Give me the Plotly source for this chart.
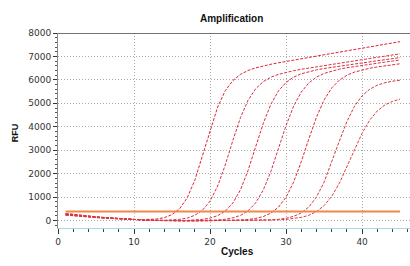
import plotly.graph_objects as go

cycles = list(range(1, 46))

curve_1 = [260, 225, 195, 168, 142, 118, 95, 75, 56, 43, 37, 41, 64, 122, 252, 503, 968, 1722, 2754, 3873,
           4845, 5536, 5970, 6235, 6400, 6513, 6596, 6666, 6728, 6791, 6847, 6903, 6959, 7015, 7071, 7127,
           7183, 7239, 7295, 7351, 7407, 7463, 7519, 7575, 7631]
curve_2 = [235, 205, 178, 152, 130, 108, 86, 67, 50, 34, 20, 10, 3, 7, 20, 48, 106, 222, 440, 830,
           1472, 2368, 3415, 4388, 5130, 5622, 5926, 6115, 6236, 6323, 6392, 6452, 6507, 6559, 6612, 6662,
           6712, 6762, 6812, 6862, 6912, 6962, 7012, 7062, 7112]
curve_3 = [275, 238, 205, 176, 150, 125, 100, 78, 58, 40, 25, 12, 2, -6, -10, -12, 2, 17, 47, 103,
           207, 400, 747, 1308, 2136, 3145, 4145, 4959, 5530, 5893, 6117, 6259, 6355, 6427, 6486, 6538,
           6587, 6634, 6681, 6726, 6771, 6816, 6861, 6906, 6951]
curve_4 = [300, 258, 222, 190, 160, 133, 107, 84, 62, 44, 28, 15, 5, -3, -8, -10, -12, -10, -8, 9,
           25, 55, 112, 219, 413, 751, 1301, 2093, 3067, 4055, 4883, 5481, 5873, 6119, 6275, 6380,
           6457, 6518, 6571, 6621, 6667, 6714, 6758, 6802, 6846]
curve_5 = [230, 198, 172, 148, 126, 104, 84, 65, 48, 32, 18, 8, -2, -10, -14, -16, -16, -14, -12, -10,
           -8, -6, 9, 21, 45, 88, 169, 315, 571, 997, 1645, 2509, 3489, 4409, 5142, 5654,
           5987, 6198, 6334, 6427, 6496, 6552, 6600, 6645, 6687]
curve_6 = [290, 250, 214, 182, 154, 128, 103, 80, 60, 42, 26, 13, 3, -5, -10, -13, -14, -13, -11, -9,
           -7, -5, -4, -3, -2, -2, 13, 26, 50, 95, 177, 325, 580, 1003, 1636, 2465,
           3382, 4223, 4876, 5321, 5601, 5773, 5877, 5943, 5988]
curve_7 = [245, 212, 183, 157, 133, 110, 89, 69, 51, 35, 21, 10, 1, -6, -10, -12, -12, -10, -8, -6,
           -4, -2, 0, 2, 3, 4, 5, 18, 28, 46, 77, 132, 225, 381, 636, 1028,
           1584, 2279, 3031, 3726, 4282, 4674, 4929, 5085, 5178]

series = [curve_1, curve_2, curve_3, curve_4, curve_5, curve_6, curve_7]
colors = ["#e2222e", "#d9303e", "#e0283a", "#d63244", "#e2262f", "#d8343e", "#e03a3a"]

threshold_x = [1, 45]
threshold_y = [380, 380]

x_ticks = [0, 10, 20, 30, 40]
y_ticks = [0, 1000, 2000, 3000, 4000, 5000, 6000, 7000, 8000]

fig = go.Figure()
for vals, col in zip(series, colors):
    fig.add_trace(go.Scatter(x=cycles, y=vals, mode="lines",
                             line=dict(color=col, width=1, dash="3px,1.5px"),
                             hoverinfo="skip"))
fig.add_trace(go.Scatter(x=threshold_x, y=threshold_y, mode="lines",
                         line=dict(color="#f0884a", width=2), hoverinfo="skip"))

tickfont = dict(family="DejaVu Sans", size=9, color="#333")
labfont = dict(family="Liberation Sans", size=10, color="#111")
fig.update_layout(
    width=410, height=266,
    margin=dict(l=58, r=0, t=33, b=38, autoexpand=False),
    paper_bgcolor="white", plot_bgcolor="white",
    showlegend=False,
    title=dict(text="<b>Amplification</b>", x=0.565, xanchor="center", y=0.93, yanchor="middle",
               font=dict(family="Liberation Sans", size=10, color="#111")),
    xaxis=dict(range=[0, 46.3], tickvals=x_ticks, ticktext=[str(v) for v in x_ticks],
               showgrid=True, gridcolor="#aaa", griddash="1px,2px", gridwidth=1,
               zeroline=False, showline=True, linecolor="#a8d8e4", linewidth=1,
               ticks="outside", ticklen=5, tickcolor="#333", tickfont=tickfont, automargin=False,
               minor=dict(dtick=2, ticks="outside", ticklen=3, tickcolor="#444", showgrid=False)),
    yaxis=dict(range=[-320, 8000], tickvals=y_ticks, ticktext=[str(v) for v in y_ticks],
               showgrid=True, gridcolor="#aaa", griddash="1px,2px", gridwidth=1,
               zeroline=False, showline=True, linecolor="#888", linewidth=1,
               ticks="outside", ticklen=4, tickcolor="#333", tickfont=tickfont, automargin=False,
               minor=dict(dtick=200, ticks="outside", ticklen=2, tickcolor="#555", showgrid=False)),
)
fig.add_annotation(text="<b>Cycles</b>", xref="paper", yref="paper", x=0.51, y=-0.12,
                   xanchor="center", yanchor="middle", showarrow=False, font=labfont)
fig.add_annotation(text="<b>RFU</b>", xref="paper", yref="paper", x=-0.12, y=0.49,
                   xanchor="center", yanchor="middle", showarrow=False, textangle=-90,
                   font=dict(family="Liberation Sans", size=9, color="#111"))
fig.add_shape(type="line", xref="paper", yref="y", x0=0, x1=1, y0=8000, y1=8000,
              line=dict(color="#444", width=1.5))
fig.write_html("out.html", config={"displayModeBar": False},
               post_script="document.body.style.margin='0';document.body.style.padding='0';")
